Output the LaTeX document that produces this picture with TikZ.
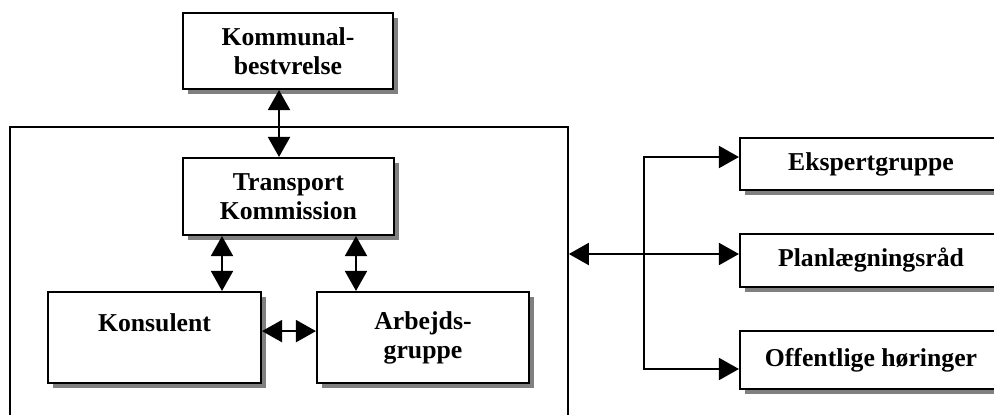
\documentclass[tikz,border=0pt]{standalone}
\usepackage{fontspec}
\setmainfont{Liberation Serif}
\usetikzlibrary{arrows.meta,shadows}

\begin{document}
\begin{tikzpicture}
	[>={Triangle[length=0.5cm,width=0.55cm]},
	 every node/.style={font=\bfseries\fontsize{18.3}{20.6}\selectfont, align=center},
	 boks/.style={rectangle, draw, line width=1.5pt, fill=white, inner sep=0pt,
		drop shadow={shadow xshift=0.13cm, shadow yshift=-0.13cm, fill=gray, opacity=1}},
	 pil/.style={line width=1.4pt}]
	\useasboundingbox (0,0) rectangle (24.85,10.35);
	\node[draw, line width=1.2pt, minimum width=13.95cm, minimum height=7.675cm] (ramme) at (7.225,3.3375) {};
	\node[boks, minimum width=5.25cm, minimum height=1.9cm] (komm) at (7.2,9.075) {Kommunal-\\bestvrelse};
	\node[boks, minimum width=5.275cm, minimum height=1.925cm] (trans) at (7.21,5.4375) {Transport\\Kommission};
	\node[boks, minimum width=5.325cm, minimum height=2.275cm] (kons) at (3.8625,1.9125) {Konsulent\\\mbox{}};
	\node[boks, minimum width=5.3cm, minimum height=2.275cm] (arb) at (10.575,1.9125) {Arbejds-\\gruppe};
	\node[boks, minimum width=6.55cm, minimum height=1.3cm] (eksp) at (21.775,6.25) {Ekspertgruppe};
	\node[boks, minimum width=6.55cm, minimum height=1.325cm] (plan) at (21.775,3.8375) {Planlægningsråd};
	\node[boks, minimum width=6.55cm, minimum height=1.45cm] (off) at (21.775,1.35) {Offentlige høringer};
	\coordinate (bus) at (16.1,4.0);

	\draw[pil, <->] ([xshift=-2.25mm]komm.south) -- ([xshift=-2.25mm]komm.south |- trans.north);
	\foreach \s/\to in {-16.6mm/kons,16.9mm/arb}
	\draw[pil, <->] ([xshift=\s]trans.south) -- ([xshift=\s]trans.south |- \to.north);
	\draw[pil, <->] ([yshift=1.6mm]kons.east) -- ([yshift=1.6mm]arb.west);
	\draw[pil, <->] (bus -| ramme.east) -- (bus -| plan.west);
	\foreach \s/\to in {1.75mm/eksp,-2.25mm/off}
	\draw[pil, ->] (bus) |- ([yshift=\s]\to.west);
\end{tikzpicture}
\end{document}
